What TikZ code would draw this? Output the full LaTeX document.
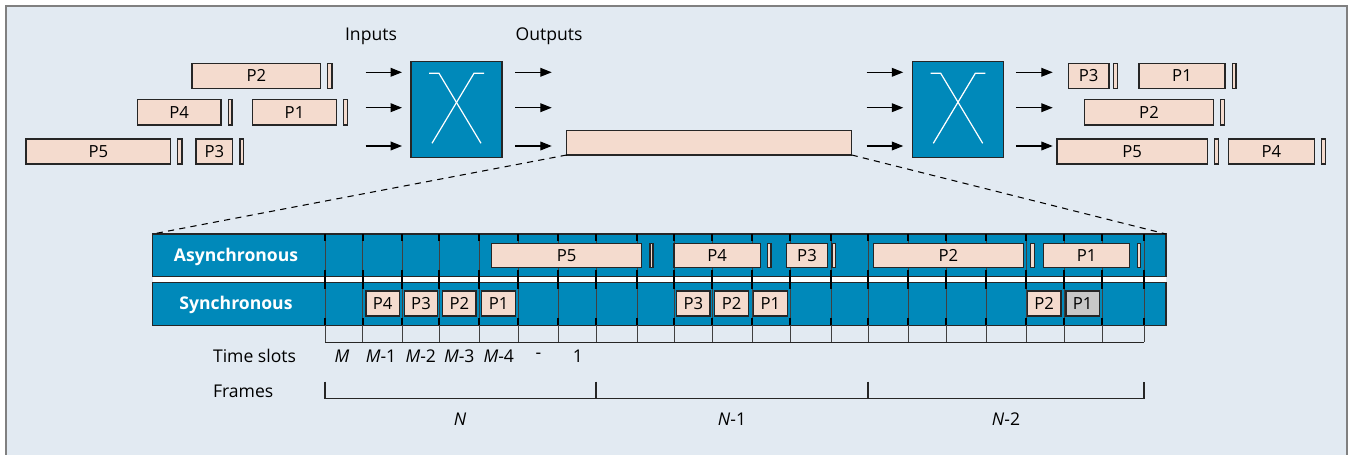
\documentclass[tikz,border=0pt]{standalone}
\usepackage{fontspec}
\setmainfont{Open Sans}
\usetikzlibrary{arrows.meta}
\definecolor{bgc}{HTML}{E2EAF2}
\definecolor{swc}{HTML}{0089BA}
\definecolor{pkc}{HTML}{F4DBCE}
\definecolor{grc}{HTML}{C8C8C8}
\definecolor{frc}{HTML}{808080}
\newcommand{\pkt}[7][pktbox]{\node[#1, minimum width={(#5-#3)*0.02cm}, minimum height={(#6-#4)*0.02cm}] (#2) at ({(#3+#5)/2},{(#4+#6)/2}) {#7};}
\tikzset{
  pktbox/.style={draw=black!85, fill=pkc, line width=0.7pt, inner sep=0pt, outer sep=0pt, font=\fontsize{9.5}{11}\selectfont},
  grbox/.style={pktbox, fill=grc},
  barbox/.style={draw=black!85, fill=swc, line width=0.7pt, inner sep=0pt, outer sep=0pt},
  swbox/.style={draw=black!85, fill=swc, line width=0.7pt, inner sep=0pt, outer sep=0pt},
  arr/.style={-{Triangle[length=6.5pt,width=5pt]}, line width=0.7pt},
  xline/.style={white, line width=0.7pt},
  txt/.style={font=\fontsize{10}{12}\selectfont, inner sep=0pt},
  lbl/.style={font=\fontsize{10}{12}\bfseries\selectfont, text=white, inner sep=0pt},
  thin/.style={black!75, line width=0.45pt},
  thick/.style={black, line width=1.3pt},
}
\begin{document}
\begin{tikzpicture}[x=0.02cm,y=-0.02cm]
\useasboundingbox (0,0) rectangle (1350,455);
\fill[white] (0,0) rectangle (1350,455);
\draw[frc, line width=1.3pt, fill=bgc] (6,6) rectangle (1347,470);

% ---- top: inputs
\node[txt] (inp) at (371,36.7) {Inputs};
\node[txt] (outp) at (549,36.7) {Outputs};

\pkt{l2}{192}{63.3}{320.7}{88.3}{P2}
\pkt{l2s}{327.7}{63.3}{332}{88.3}{}
\pkt{l4}{137.3}{99.7}{221}{125}{P4}
\pkt{l4s}{228.3}{99.7}{232}{125}{}
\pkt{l1}{252.7}{99.7}{336.3}{125}{P1}
\pkt{l1s}{343.3}{99.7}{347.7}{125}{}
\pkt{l5}{26}{139}{170.7}{164}{P5}
\pkt{l5s}{177.7}{139}{182}{164}{}
\pkt{l3}{196}{139}{232.7}{164}{P3}
\pkt{l3s}{240}{139}{243.7}{164}{}

% switches
\pkt[swbox]{sw1}{411}{61.7}{502}{157.3}{}
\pkt[swbox]{sw2}{912.7}{61.7}{1003.3}{157.3}{}
\foreach \s in {sw1,sw2}{
  \draw[xline] ([xshift=18*0.02cm,yshift=-11.6*0.02cm]\s.north west) -- ++(10,0) -- ([xshift=70*0.02cm,yshift=14*0.02cm]\s.south west);
  \draw[xline] ([xshift=-18*0.02cm,yshift=-11.6*0.02cm]\s.north east) -- ++(-10,0) -- ([xshift=-70*0.02cm,yshift=14*0.02cm]\s.south east);
}

% arrows
\foreach \y [count=\i] in {72.3,107.7,146}{
  \coordinate (ia\i) at (365.7,\y);
  \coordinate (oa\i) at (551.7,\y);
  \coordinate (ib\i) at (866.7,\y);
  \coordinate (ob\i) at (1052.7,\y);
  \draw[arr, shorten >=0.18cm] (ia\i) -- (ia\i -| sw1.west);
  \draw[arr, shorten <=0.26cm] (oa\i -| sw1.east) -- (oa\i);
  \draw[arr, shorten >=0.19cm] (ib\i) -- (ib\i -| sw2.west);
  \draw[arr, shorten <=0.25cm] (ob\i -| sw2.east) -- (ob\i);
}

% long buffer
\pkt{buf}{566.7}{130.7}{851.7}{155}{}

% right packets
\pkt{r3}{1068.3}{63.3}{1109}{88.3}{P3}
\pkt{r3s}{1113.3}{63.3}{1117.3}{88.3}{}
\pkt{r1}{1139}{63.3}{1225}{88.3}{P1}
\pkt{r1s}{1232.3}{63.3}{1236}{88.3}{}
\pkt{r2}{1084.7}{99.7}{1213.3}{125}{P2}
\pkt{r2s}{1220.7}{99.7}{1224.3}{125}{}
\pkt{r5}{1057}{139}{1207.3}{164}{P5}
\pkt{r5s}{1214.3}{139}{1218.3}{164}{}
\pkt{r4}{1228.3}{139}{1314.3}{164}{P4}
\pkt{r4s}{1321.7}{139}{1325.3}{164}{}

% ---- bars
\fill[white] (152.7,276.7) rectangle (1166,282.3);
\pkt[barbox]{async}{152.7}{234}{1166}{276.7}{}
\pkt[barbox]{sync}{152.7}{282.3}{1166}{325.3}{}
\draw[dashed, line width=0.6pt, dash pattern=on 3.5pt off 3pt] (buf.south west) -- (async.north west);
\draw[dashed, line width=0.6pt, dash pattern=on 3.5pt off 3pt] (buf.south east) -- (async.north east);
\node[lbl] (asl) at (236,256.7) {Asynchronous};
\node[lbl] (syl) at (236,305) {Synchronous};

\foreach \x in {325,362.7,402.3,439.3,479.3,518.3,558,596,637,674,712,752,790,831,868,908,946,986,1026,1064,1102,1144}{
  \draw[thin] (\x,234) -- (\x,342.3);
  \draw[thick] (\x,234) -- (\x,241) (\x,270) -- (\x,289) (\x,318) -- (\x,325.3);
}
\draw[black!85, line width=0.7pt] (325,342.3) -- (1144,342.3);

% async packets
\pkt{a5}{491.7}{243.3}{641.7}{267.7}{P5}
\pkt{a5s}{650}{243.3}{653}{267.7}{}
\pkt{a4}{674}{243.3}{760.3}{267.7}{P4}
\pkt{a4s}{767.7}{243.3}{771}{267.7}{}
\pkt{a3}{786.7}{243.3}{827.3}{267.7}{P3}
\pkt{a3s}{832}{243.3}{835.3}{267.7}{}
\pkt{a2}{873.3}{243.3}{1023.3}{267.7}{P2}
\pkt{a2s}{1030.7}{243.3}{1034.3}{267.7}{}
\pkt{a1}{1043.7}{243.3}{1129.7}{267.7}{P1}
\pkt{a1s}{1137.3}{243.3}{1140.7}{267.7}{}

% sync packets
\pkt{s4}{366}{291}{399.3}{316}{P4}
\pkt{s3}{404.3}{291}{437.7}{316}{P3}
\pkt{s2}{442.7}{291}{476}{316}{P2}
\pkt{s1}{481.7}{291}{515.7}{316}{P1}
\pkt{t3}{676.7}{291}{710}{316}{P3}
\pkt{t2}{714.7}{291}{748.7}{316}{P2}
\pkt{t1}{753.3}{291}{787.3}{316}{P1}
\pkt{u2}{1027.3}{291}{1061}{316}{P2}
\pkt[grbox]{u1}{1066}{291}{1099.3}{316}{P1}

% time slots
\node[txt, anchor=west] (tsl) at (212.7,356) {Time slots};
\node[txt] (m0) at (342,356) {\textit{M}};
\node[txt] (m1) at (381,356) {\textit{M}-1};
\node[txt] (m2) at (420.8,356) {\textit{M}-2};
\node[txt] (m3) at (459.3,356) {\textit{M}-3};
\node[txt] (m4) at (498.8,356) {\textit{M}-4};
\node[txt] (m5) at (538.5,356) {-};
\node[txt] (m6) at (578,356) {1};

% frames
\node[txt, anchor=west] (frl) at (212.7,391.7) {Frames};
\draw[black!85, line width=0.7pt] (325,381.7) -- (325,398.3) -- (1144,398.3) -- (1144,381.7);
\draw[black!85, line width=0.7pt] (596,381.7) -- (596,398.3) (868,381.7) -- (868,398.3);
\node[txt] (f0) at (460,419.3) {\textit{N}};
\node[txt] (f1) at (732,419.3) {\textit{N}-1};
\node[txt] (f2) at (1006,419.3) {\textit{N}-2};
\end{tikzpicture}
\end{document}
